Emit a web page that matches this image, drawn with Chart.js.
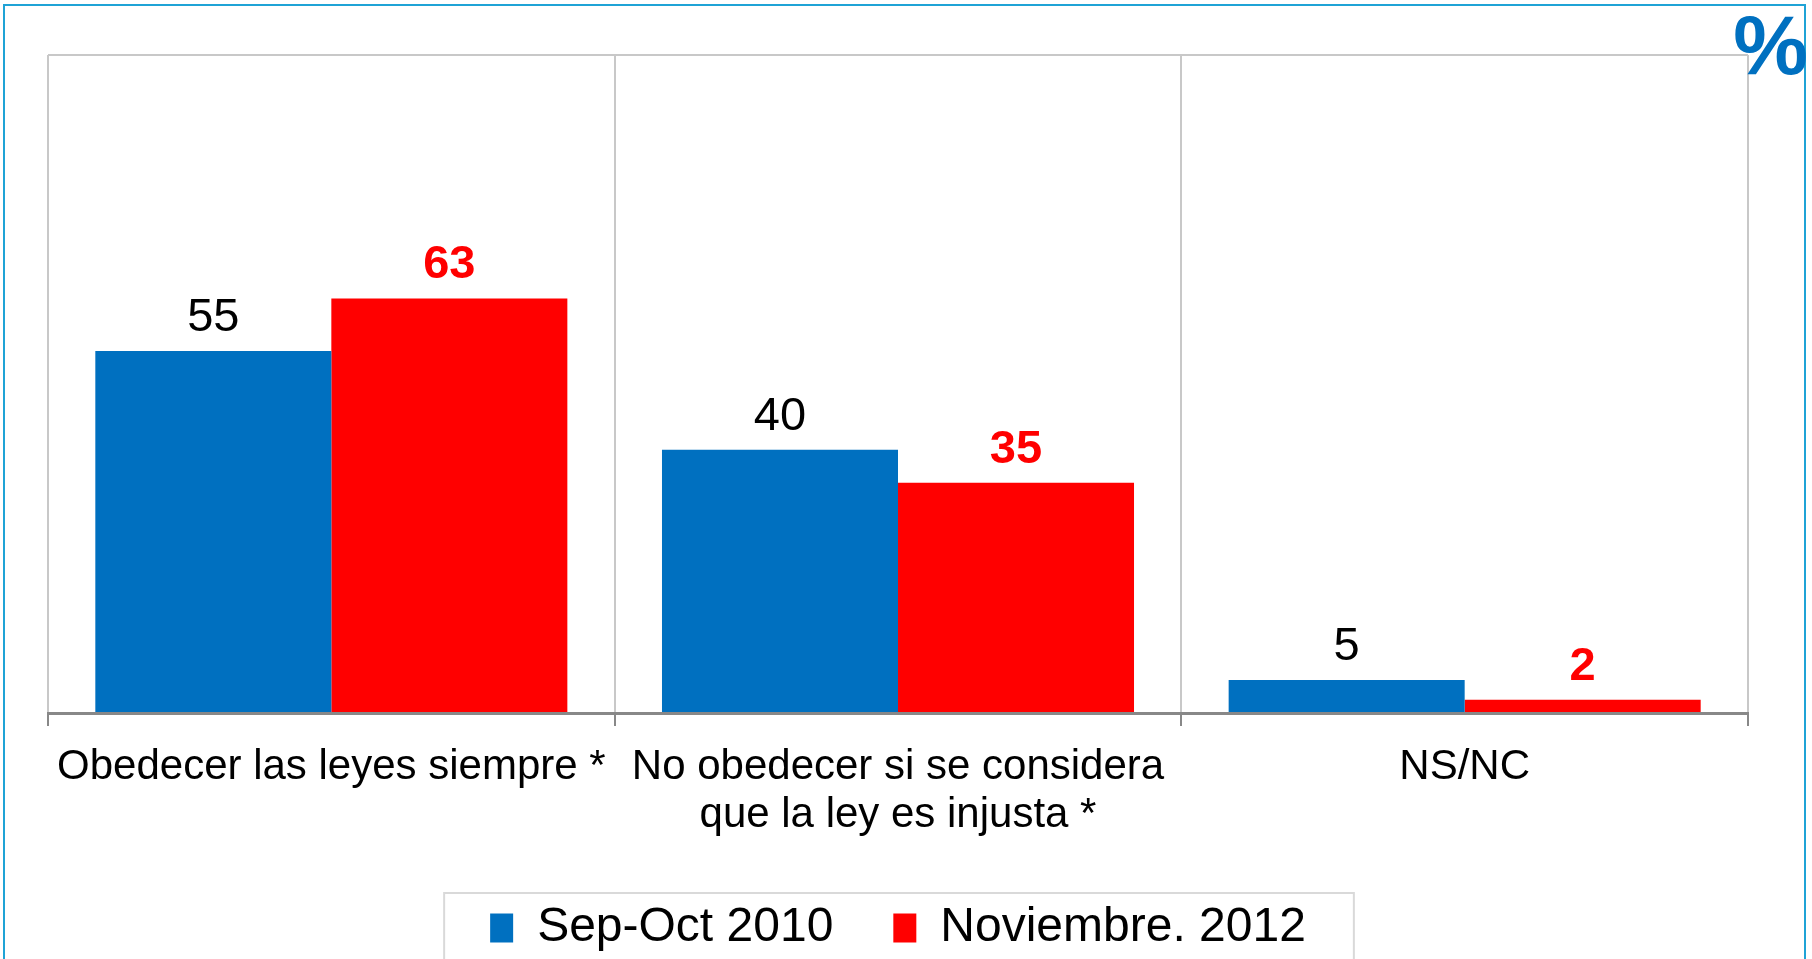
<!DOCTYPE html>
<html lang="es">

<head>
    <meta charset="UTF-8">
    <title>Obedecer las leyes</title>
    <script src="https://cdn.jsdelivr.net/npm/chart.js"></script>
    <style>
        body {
            margin: 0;
            background: #ffffff;
            overflow: hidden;
        }

        #marco {
            position: absolute;
            left: 3px;
            top: 4px;
            width: 1799px;
            height: 1000px;
            border: 2px solid #1fa3d6;
        }

        #caja {
            position: absolute;
            left: 0;
            top: 0;
            width: 1812px;
            height: 1000px;
        }
    </style>
</head>

<body>
    <div id="marco"></div>
    <div id="caja">
        <canvas id="myChart"></canvas>
    </div>
</body>

</html>

<script>
    const categorias = [
        'Obedecer las leyes siempre *',
        ['No obedecer si se considera', 'que la ley es injusta *'],
        'NS/NC'
    ];

    const serie2010 = [55, 40, 5];
    const serie2012 = [63, 35, 2];

    const nombre2010 = 'Sep-Oct 2010';
    const nombre2012 = 'Noviembre. 2012';

    const fuente = "'Liberation Sans', Arial, sans-serif";

    // etiquetas de valor arriba de cada barra
    const etiquetas = {
        id: 'etiquetas',
        afterDatasetsDraw(chart) {
            const ctx = chart.ctx;
            chart.data.datasets.forEach(function (ds, i) {
                const meta = chart.getDatasetMeta(i);
                meta.data.forEach(function (barra, j) {
                    ctx.save();
                    ctx.textAlign = 'center';
                    ctx.textBaseline = 'alphabetic';
                    if (i === 1) {
                        ctx.fillStyle = '#ff0000';
                        ctx.font = 'bold 47px ' + fuente;
                    } else {
                        ctx.fillStyle = '#000000';
                        ctx.font = '47px ' + fuente;
                    }
                    ctx.fillText(ds.data[j], barra.x, barra.y - 20);
                    ctx.restore();
                });
            });
        }
    };

    // borde de la leyenda y el signo %
    const extras = {
        id: 'extras',
        afterDraw(chart) {
            const ctx = chart.ctx;
            const cajas = chart.legend.legendHitBoxes;
            if (cajas && cajas.length) {
                let izq = cajas[0].left - 46;
                let der = cajas[cajas.length - 1].left + cajas[cajas.length - 1].width + 48;
                ctx.save();
                ctx.strokeStyle = '#d9d9d9';
                ctx.lineWidth = 2;
                ctx.strokeRect(izq, 893, der - izq, 200);
                ctx.restore();
            }
            ctx.save();
            ctx.fillStyle = '#0070c0';
            ctx.font = 'bold 84px ' + fuente;
            ctx.textAlign = 'right';
            ctx.textBaseline = 'alphabetic';
            ctx.fillText('%', 1808, 74);
            ctx.restore();
        }
    };

    const config = {
        type: 'bar',
        data: {
            labels: categorias,
            datasets: [{
                label: nombre2010,
                data: serie2010,
                backgroundColor: '#0070c0',
                borderWidth: 0
            }, {
                label: nombre2012,
                data: serie2012,
                backgroundColor: '#ff0000',
                borderWidth: 0
            }]
        },
        options: {
            responsive: true,
            maintainAspectRatio: false,
            animation: false,
            layout: {
                padding: { top: 55, left: 48, right: 64, bottom: 38 }
            },
            datasets: {
                bar: {
                    categoryPercentage: 0.833,
                    barPercentage: 1.0
                }
            },
            scales: {
                x: {
                    grid: {
                        offset: true,
                        color: '#c8c8c8',
                        lineWidth: 2,
                        drawTicks: true,
                        tickLength: 13,
                        tickColor: '#888888'
                    },
                    border: {
                        color: '#888888',
                        width: 3
                    },
                    ticks: {
                        color: '#000000',
                        padding: 17,
                        maxRotation: 0,
                        autoSkip: false,
                        font: { family: fuente, size: 42, lineHeight: 1.15 }
                    },
                    afterFit: function (escala) {
                        escala.height = 131;
                    }
                },
                y: {
                    min: 0,
                    max: 100,
                    ticks: { display: false },
                    grid: {
                        drawTicks: false,
                        lineWidth: 2,
                        color: function (c) {
                            return c.tick && c.tick.value === 100 ? '#c8c8c8' : 'transparent';
                        }
                    },
                    border: { display: false },
                    afterFit: function (escala) {
                        escala.width = 0;
                    }
                }
            },
            plugins: {
                tooltip: { enabled: false },
                legend: {
                    position: 'bottom',
                    labels: {
                        color: '#000000',
                        boxWidth: 23,
                        boxHeight: 29,
                        padding: 60,
                        font: { family: fuente, size: 48 }
                    }
                }
            }
        },
        plugins: [etiquetas, extras]
    };

    const myChart = new Chart(document.getElementById('myChart'), config);
</script>
